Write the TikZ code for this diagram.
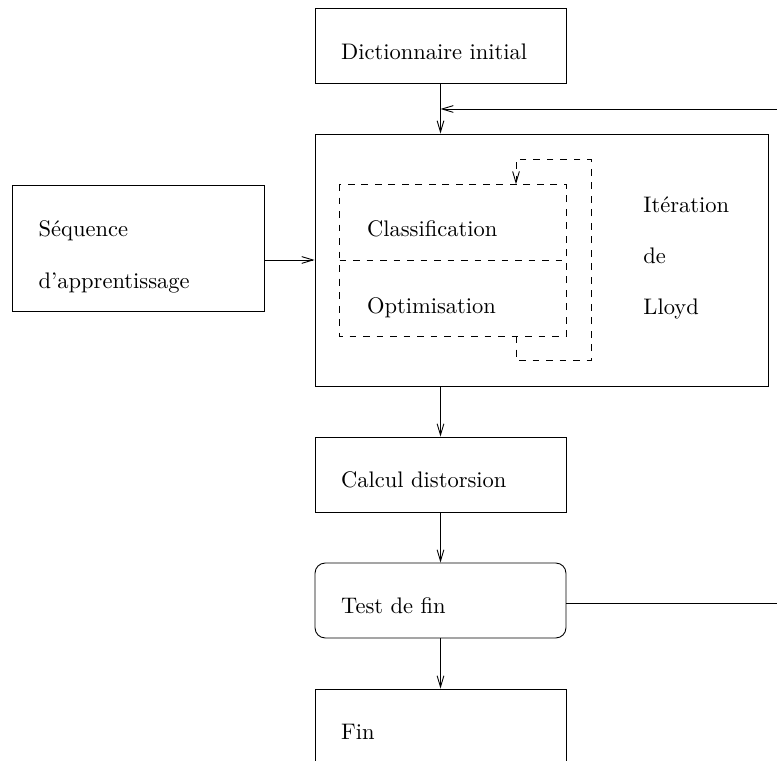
\documentclass[tikz,border=0pt]{standalone}
\usetikzlibrary{arrows.meta}

\begin{document}
\begin{tikzpicture}[x=0.4444pt,y=-0.4444pt,
    >={Straight Barb[length=5pt,width=3pt]},
    box/.style={draw,minimum width=111.5pt,minimum height=33.3pt,
        inner xsep=11.6pt,text width=88.3pt,align=left,
        text height=12pt,text depth=0pt},
    phase/.style={minimum width=100.4pt,minimum height=33.6pt,
        inner xsep=12pt,text width=76.4pt,align=left,
        text height=12.5pt,text depth=0pt}]
    \useasboundingbox (0,0) rectangle (777,761);
    \path (440.5,  46) node [box] (dict) {Dictionnaire initial};
    \path (541.5, 260) node [draw,minimum width=201.3pt,minimum height=112pt] (lloyd) {};
    \path (  138, 248) node [box,minimum width=112pt,minimum height=56pt,
        text height=7pt,text depth=16.8pt] (seq) {S\'equence\\[11pt]d'apprentissage};
    \path (  453, 222.5) node [phase] (classif) {Classification};
    \path (  453, 298) node [phase,text height=13.5pt] (optim) {Optimisation};
    \draw [dashed] (classif.north west) rectangle (optim.south east);
    \draw [dashed] (classif.south west) -- (classif.south east);
    \draw [dashed,->] ([xshift=28pt]optim.south) -- ++(0,24) -- ++(75,0)
        -- ++(0,-201) -| ([xshift=28pt]classif.north);
    \path (  643, 196) node [anchor=north west,inner sep=0pt,align=left] (iter)
        {It\'eration\\[10.8pt]de\\[10.8pt]Lloyd};
    \path (440.5, 474.5) node [box] (calc) {Calcul distorsion};
    \path (440.5, 600.5) node [box,rounded corners=4.5pt] (test) {Test de fin};
    \path (440.5, 726.5) node [box] (fin) {Fin};
    \coordinate (back) at (777,109);
    \coordinate (exit) at (777,603);
    \draw [->] (dict) -- (dict |- lloyd.north);
    \draw [->] (back) -- (back -| dict.south);
    \draw [->] (seq.east |- lloyd) -- (lloyd.west);
    \draw [->] (dict |- lloyd.south) -- (calc);
    \draw [->] (calc) -- (test);
    \draw [->] (test) -- (fin);
    \draw (test.east |- exit) -- (exit);
\end{tikzpicture}
\end{document}
